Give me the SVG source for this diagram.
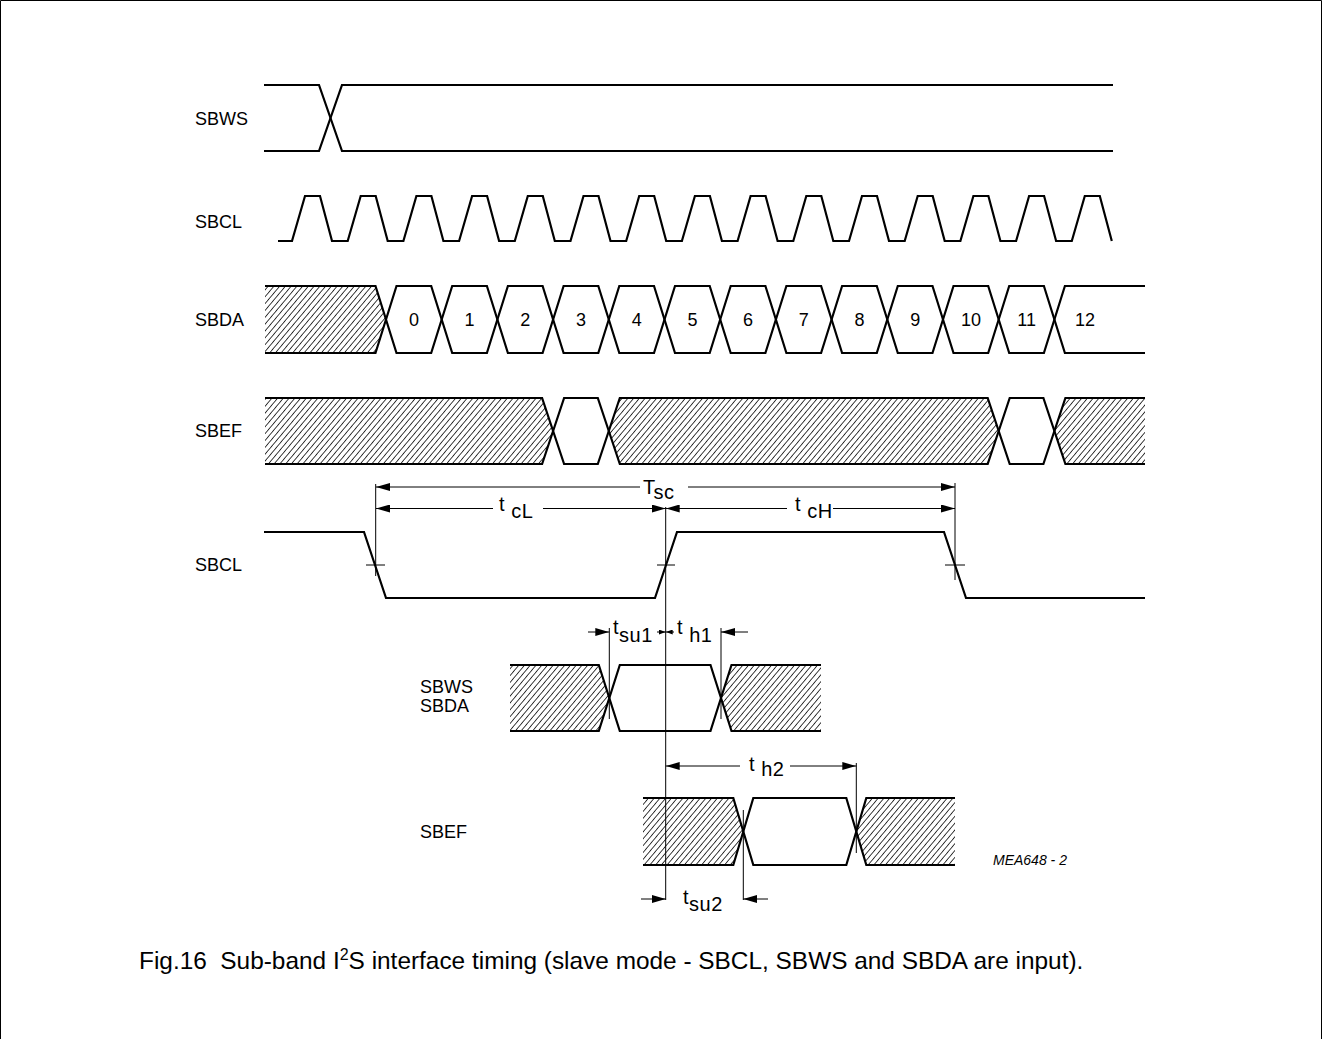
<svg xmlns="http://www.w3.org/2000/svg" width="1322" height="1039" viewBox="0 0 1322 1039">
<style>
.sig{fill:none;stroke:#000;stroke-width:2.2;stroke-linejoin:miter}
.thin{fill:none;stroke:#000;stroke-width:1}
.hf{fill:url(#hatch);stroke:none}
.lbl{font-family:"Liberation Sans",Arial,sans-serif;font-size:18px;fill:#000}
.dig{font-family:"Liberation Sans",Arial,sans-serif;font-size:18px;fill:#000;text-anchor:middle}
.tm{font-family:"Liberation Sans",Arial,sans-serif;font-size:20px;fill:#000;letter-spacing:0.5px}
.cap{font-family:"Liberation Sans",Arial,sans-serif;font-size:24.4px;fill:#000}
.code{font-family:"Liberation Sans",Arial,sans-serif;font-size:14px;font-style:italic;fill:#000}
</style>
<defs>
<pattern id="hatch" patternUnits="userSpaceOnUse" width="4.4" height="10" patternTransform="rotate(40)">
<line x1="2.2" y1="-1" x2="2.2" y2="11" stroke="#000" stroke-width="0.8"/>
</pattern>
<marker id="arr" markerUnits="userSpaceOnUse" markerWidth="14" markerHeight="8" viewBox="0 0 14 8" refX="14" refY="4" orient="auto-start-reverse">
<path d="M0,0 L14,4 L0,8 z" fill="#000"/>
</marker>
<marker id="arrs" markerUnits="userSpaceOnUse" markerWidth="7" markerHeight="5" viewBox="0 0 7 5" refX="7" refY="2.5" orient="auto-start-reverse">
<path d="M0,0 L7,2.5 L0,5 z" fill="#000"/>
</marker>
</defs>
<rect width="1322" height="1039" fill="#fff"/>
<path d="M0.5,1039 V0.5 H1321.5 V1039" fill="none" stroke="#000" stroke-width="1"/>

<g id="sbws">
<text class="lbl" x="195" y="125">SBWS</text>
<path class="sig" d="M264,85 H319 L342,151 H1113"/>
<path class="sig" d="M264,151 H319 L342,85 H1113"/>
</g>

<g id="sbcl">
<text class="lbl" x="195" y="228">SBCL</text>
<path class="sig" d="M278,241 H292 L305,196 H320 L332,241 H347.7 L360.7,196 H375.7 L387.7,241 H403.4 L416.4,196 H431.4 L443.4,241 H459.1 L472.1,196 H487.1 L499.1,241 H514.8 L527.8,196 H542.8 L554.8,241 H570.5 L583.5,196 H598.5 L610.5,241 H626.2 L639.2,196 H654.2 L666.2,241 H681.9 L694.9,196 H709.9 L721.9,241 H737.6 L750.6,196 H765.6 L777.6,241 H793.3 L806.3,196 H821.3 L833.3,241 H849 L862,196 H877 L889,241 H904.7 L917.7,196 H932.7 L944.7,241 H960.4 L973.4,196 H988.4 L1000.4,241 H1016.1 L1029.1,196 H1044.1 L1056.1,241 H1071.8 L1084.8,196 H1099.8 L1111.8,241"/>
</g>

<g id="sbda">
<text class="lbl" x="195" y="326">SBDA</text>
<polygon class="hf" points="265,286 375.5,286 386,319.5 375.5,353 265,353"/>
<path class="sig" d="M265,286 H375.5 L396.5,353 H431.2 L452.2,286 H486.9 L507.9,353 H542.6 L563.6,286 H598.3 L619.3,353 H654 L675,286 H709.7 L730.7,353 H765.4 L786.4,286 H821.1 L842.1,353 H876.8 L897.8,286 H932.5 L953.5,353 H988.2 L1009.2,286 H1043.9 L1064.9,353 H1145"/>
<path class="sig" d="M265,353 H375.5 L396.5,286 H431.2 L452.2,353 H486.9 L507.9,286 H542.6 L563.6,353 H598.3 L619.3,286 H654 L675,353 H709.7 L730.7,286 H765.4 L786.4,353 H821.1 L842.1,286 H876.8 L897.8,353 H932.5 L953.5,286 H988.2 L1009.2,353 H1043.9 L1064.9,286 H1145"/>
<text class="dig" x="413.9" y="326">0</text>
<text class="dig" x="469.6" y="326">1</text>
<text class="dig" x="525.3" y="326">2</text>
<text class="dig" x="581" y="326">3</text>
<text class="dig" x="636.7" y="326">4</text>
<text class="dig" x="692.4" y="326">5</text>
<text class="dig" x="748.1" y="326">6</text>
<text class="dig" x="803.8" y="326">7</text>
<text class="dig" x="859.5" y="326">8</text>
<text class="dig" x="915.2" y="326">9</text>
<text class="dig" x="970.9" y="326">10</text>
<text class="dig" x="1026.6" y="326">11</text>
<text class="dig" x="1085" y="326">12</text>
</g>

<g id="sbef">
<text class="lbl" x="195" y="437">SBEF</text>
<polygon class="hf" points="265,398 542.1,398 553.1,431 542.1,464 265,464"/>
<polygon class="hf" points="619.8,398 987.7,398 998.7,431 987.7,464 619.8,464 608.8,431"/>
<polygon class="hf" points="1065.4,398 1145,398 1145,464 1065.4,464 1054.4,431"/>
<path class="sig" d="M265,398 H542.1 L564.1,464 H597.8 L619.8,398 H987.7 L1009.7,464 H1043.4 L1065.4,398 H1145"/>
<path class="sig" d="M265,464 H542.1 L564.1,398 H597.8 L619.8,464 H987.7 L1009.7,398 H1043.4 L1065.4,464 H1145"/>
</g>

<g id="sbcl-timing">
<text class="lbl" x="195" y="571">SBCL</text>
<path class="sig" d="M264,532 H364 L386,598 H655 L677,532 H944 L966,598 H1145"/>
<path class="thin" d="M366,565 H385 M657,565 H675 M945,565 H965"/>
</g>

<g id="sbws-sbda-setup">
<text class="lbl" x="420" y="693">SBWS</text>
<text class="lbl" x="420" y="712">SBDA</text>
<polygon class="hf" points="510,665 598.8,665 609.3,698 598.8,731 510,731"/>
<polygon class="hf" points="731.5,665 821,665 821,731 731.5,731 721,698"/>
<path class="sig" d="M510,665 H598.8 L619.8,731 H710.5 L731.5,665 H821"/>
<path class="sig" d="M510,731 H598.8 L619.8,665 H710.5 L731.5,731 H821"/>
</g>

<g id="sbef-setup">
<text class="lbl" x="420" y="838">SBEF</text>
<polygon class="hf" points="643,798 733.3,798 743.3,831.5 733.3,865 643,865"/>
<polygon class="hf" points="866.3,798 955,798 955,865 866.3,865 856.3,831.5"/>
<path class="sig" d="M643,798 H733.3 L753.3,865 H846.3 L866.3,798 H955"/>
<path class="sig" d="M643,865 H733.3 L753.3,798 H846.3 L866.3,865 H955"/>
<text class="code" x="993" y="865">MEA648 - 2</text>
</g>

<g id="connectors">
<path class="thin" d="M375.7,484 V576 M665.7,507 V900 M955,483 V580"/>
<path class="thin" d="M609.3,628 V719 M721,628 V719 M743.3,810 V900 M856.3,763 V853"/>
<line class="thin" x1="640" y1="487" x2="376" y2="487" marker-end="url(#arr)"/>
<line class="thin" x1="688" y1="487" x2="955" y2="487" marker-end="url(#arr)"/>
<line class="thin" x1="493" y1="508.5" x2="376" y2="508.5" marker-end="url(#arr)"/>
<line class="thin" x1="543" y1="508.5" x2="665.7" y2="508.5" marker-end="url(#arr)"/>
<line class="thin" x1="787" y1="508.5" x2="665.7" y2="508.5" marker-end="url(#arr)"/>
<line class="thin" x1="833" y1="508.5" x2="955" y2="508.5" marker-end="url(#arr)"/>
<line class="thin" x1="588" y1="632" x2="609.3" y2="632" marker-end="url(#arr)"/>
<line class="thin" x1="657" y1="632" x2="665.7" y2="632" marker-end="url(#arrs)"/>
<line class="thin" x1="674" y1="632" x2="665.7" y2="632" marker-end="url(#arrs)"/>
<line class="thin" x1="748" y1="632" x2="721" y2="632" marker-end="url(#arr)"/>
<line class="thin" x1="740" y1="766" x2="665.7" y2="766" marker-end="url(#arr)"/>
<line class="thin" x1="790" y1="766" x2="856.3" y2="766" marker-end="url(#arr)"/>
<line class="thin" x1="641" y1="899" x2="665.7" y2="899" marker-end="url(#arr)"/>
<line class="thin" x1="768" y1="899" x2="743.3" y2="899" marker-end="url(#arr)"/>
<text class="tm" x="643" y="494">T<tspan dy="5">sc</tspan></text>
<text class="tm" x="499" y="511">t <tspan dy="7">cL</tspan></text>
<text class="tm" x="795" y="511">t <tspan dy="7">cH</tspan></text>
<text class="tm" x="613" y="634">t<tspan dy="8">su1</tspan></text>
<text class="tm" x="677" y="634">t <tspan dy="8">h1</tspan></text>
<text class="tm" x="749" y="771">t <tspan dy="5">h2</tspan></text>
<text class="tm" x="683" y="904">t<tspan dy="7">su2</tspan></text>
</g>

<text class="cap" x="139" y="969" xml:space="preserve">Fig.16  Sub-band I<tspan font-size="16" dy="-9">2</tspan><tspan dy="9">S interface timing (slave mode - SBCL, SBWS and SBDA are input).</tspan></text>
</svg>
